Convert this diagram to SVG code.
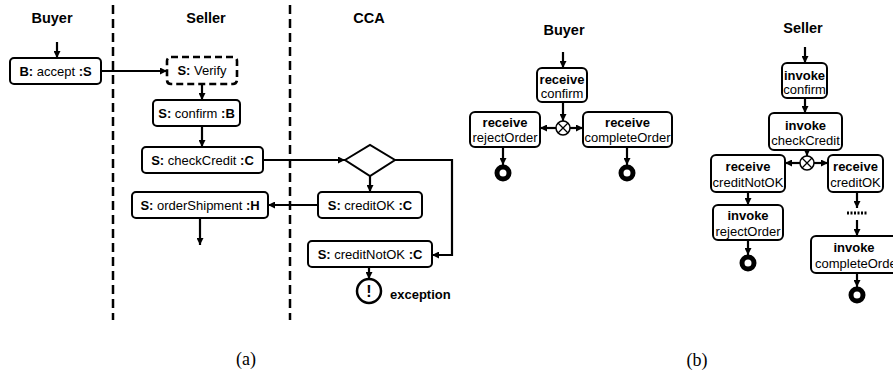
<svg xmlns="http://www.w3.org/2000/svg" width="893" height="374" viewBox="0 0 893 374">
<defs>
<marker id="ah" viewBox="0 0 10 10" refX="10" refY="5" markerWidth="7" markerHeight="7" markerUnits="userSpaceOnUse" orient="auto">
<path d="M0,0 L10,5 L0,10 z" fill="#000"/>
</marker>
</defs>
<style>
.t{font-family:"Liberation Sans",Arial,sans-serif;font-size:13px;fill:#000;text-anchor:middle}
.b{font-weight:bold}
.h{font-family:"Liberation Sans",Arial,sans-serif;font-size:14.5px;font-weight:bold;fill:#000;text-anchor:middle}
.box{fill:#fff;stroke:#000;stroke-width:2}
.dbox{fill:#fff;stroke:#000;stroke-width:2.6;stroke-dasharray:7 4}
.lane{stroke:#000;stroke-width:2.5;stroke-dasharray:9 5;fill:none}
.a{stroke:#000;stroke-width:2.2;fill:none;marker-end:url(#ah)}
.end{fill:none;stroke:#000;stroke-width:5}
.cap{font-family:"Liberation Serif","DejaVu Serif",serif;font-size:18px;fill:#000;text-anchor:middle}
</style>

<g id="lanes">
<line class="lane" x1="113" y1="5" x2="113" y2="320"/>
<line class="lane" x1="290" y1="5" x2="290" y2="320"/>
<text class="h" x="52" y="23">Buyer</text>
<text class="h" x="206" y="23">Seller</text>
<text class="h" x="369" y="23">CCA</text>
</g>

<g id="a-connectors">
<line class="a" x1="57" y1="42" x2="57" y2="58"/>
<line class="a" x1="101" y1="71" x2="167" y2="71"/>
<line class="a" x1="202" y1="84" x2="202" y2="100"/>
<line class="a" x1="202" y1="126" x2="202" y2="147"/>
<line class="a" x1="263" y1="160" x2="345" y2="160"/>
<polyline class="a" points="395,160 452,160 452,255 432,255"/>
<line class="a" x1="370" y1="176" x2="370" y2="192"/>
<line class="a" x1="318" y1="205" x2="268" y2="205"/>
<line class="a" x1="200" y1="218" x2="200" y2="245"/>
<line class="a" x1="369" y1="267" x2="369" y2="279"/>
</g>

<g id="a-accept"><rect class="box" x="10" y="58" width="91" height="26" rx="4"/><text class="t" x="55.5" y="76"><tspan class="b">B:</tspan> accept <tspan class="b">:S</tspan></text></g>
<g id="a-verify"><rect class="dbox" x="167" y="57" width="70" height="27" rx="4"/><text class="t" x="202" y="75"><tspan class="b">S:</tspan> Verify</text></g>
<g id="a-confirm"><rect class="box" x="153" y="100" width="87" height="26" rx="4"/><text class="t" x="196.5" y="118"><tspan class="b">S:</tspan> confirm <tspan class="b">:B</tspan></text></g>
<g id="a-checkCredit"><rect class="box" x="142" y="147" width="121" height="26" rx="4"/><text class="t" x="202.5" y="165"><tspan class="b">S:</tspan> checkCredit <tspan class="b">:C</tspan></text></g>
<g id="a-decision"><polygon points="345,160 370,145 395,160 370,176" fill="#fff" stroke="#000" stroke-width="2"/></g>
<g id="a-creditOK"><rect class="box" x="318" y="192" width="104" height="26" rx="4"/><text class="t" x="370" y="210"><tspan class="b">S:</tspan> creditOK <tspan class="b">:C</tspan></text></g>
<g id="a-orderShipment"><rect class="box" x="132" y="192" width="136" height="26" rx="4"/><text class="t" x="200" y="210"><tspan class="b">S:</tspan> orderShipment <tspan class="b">:H</tspan></text></g>
<g id="a-creditNotOK"><rect class="box" x="308" y="241" width="124" height="26" rx="4"/><text class="t" x="370" y="259"><tspan class="b">S:</tspan> creditNotOK <tspan class="b">:C</tspan></text></g>
<g id="a-exception"><circle cx="369" cy="291" r="12" fill="#fff" stroke="#000" stroke-width="2.5"/><text class="t b" x="369" y="297" style="font-size:16px">!</text><text class="t b" x="390" y="299" style="text-anchor:start">exception</text></g>
<text class="cap" x="246" y="365">(a)</text>

<text class="h" x="564" y="35">Buyer</text>
<text class="h" x="803" y="33">Seller</text>

<g id="b-connectors">
<line class="a" x1="563" y1="52" x2="563" y2="68"/>
<line class="a" x1="563" y1="102" x2="563" y2="121"/>
<line class="a" x1="556" y1="128" x2="540" y2="128"/>
<line class="a" x1="570" y1="128" x2="583" y2="128"/>
<line class="a" x1="503" y1="147" x2="503" y2="165"/>
<line class="a" x1="627" y1="147" x2="627" y2="165"/>
<line class="a" x1="805" y1="47" x2="805" y2="63"/>
<line class="a" x1="805" y1="98" x2="805" y2="113"/>
<line class="a" x1="807" y1="150" x2="807" y2="156"/>
<line class="a" x1="800" y1="163" x2="785" y2="163"/>
<line class="a" x1="814" y1="163" x2="828" y2="163"/>
<line class="a" x1="748" y1="192" x2="748" y2="205"/>
<line class="a" x1="748" y1="240" x2="748" y2="255"/>
<line class="a" x1="857" y1="192" x2="857" y2="208"/>
<line x1="847" y1="213" x2="868" y2="213" stroke="#000" stroke-width="3" stroke-dasharray="2 1.5"/>
<line class="a" x1="857" y1="220" x2="857" y2="236"/>
<line class="a" x1="857" y1="273" x2="857" y2="287"/>
</g>

<g id="b-buyer-confirm"><rect class="box" x="537" y="68" width="50" height="34" rx="5"/><text class="t b" x="562" y="84">receive</text><text class="t" x="562" y="98">confirm</text></g>
<g id="b-buyer-xor"><circle cx="563" cy="128" r="7" fill="#fff" stroke="#000" stroke-width="1.5"/><path d="M558,123 L568,133 M568,123 L558,133" stroke="#000" stroke-width="1.3"/></g>
<g id="b-rejectOrder"><rect class="box" x="470" y="112" width="70" height="35" rx="5"/><text class="t b" x="505" y="127">receive</text><text class="t" x="505" y="142">rejectOrder</text></g>
<g id="b-completeOrder"><rect class="box" x="583" y="112" width="89" height="35" rx="5"/><text class="t b" x="627.5" y="127">receive</text><text class="t" x="627.5" y="142">completeOrder</text></g>
<g id="b-end1"><circle class="end" cx="503" cy="173" r="6"/></g>
<g id="b-end2"><circle class="end" cx="627" cy="173" r="6"/></g>

<g id="b-seller-confirm"><rect class="box" x="782" y="63" width="45" height="35" rx="5"/><text class="t b" x="804.5" y="80">invoke</text><text class="t" x="804.5" y="94">confirm</text></g>
<g id="b-checkCredit"><rect class="box" x="769" y="113" width="73" height="37" rx="5"/><text class="t b" x="805.5" y="130">invoke</text><text class="t" x="805.5" y="145">checkCredit</text></g>
<g id="b-seller-xor"><circle cx="807" cy="163" r="7" fill="#fff" stroke="#000" stroke-width="1.5"/><path d="M802,158 L812,168 M812,158 L802,168" stroke="#000" stroke-width="1.3"/></g>
<g id="b-creditNotOK"><rect class="box" x="711" y="155" width="74" height="37" rx="5"/><text class="t b" x="748" y="171">receive</text><text class="t" x="748" y="187">creditNotOK</text></g>
<g id="b-creditOK"><rect class="box" x="828" y="155" width="55" height="37" rx="5"/><text class="t b" x="855.5" y="171">receive</text><text class="t" x="855.5" y="187">creditOK</text></g>
<g id="b-invoke-rejectOrder"><rect class="box" x="713" y="205" width="70" height="35" rx="5"/><text class="t b" x="748" y="220">invoke</text><text class="t" x="748" y="236">rejectOrder</text></g>
<g id="b-invoke-completeOrder"><rect class="box" x="811" y="236" width="95" height="37" rx="5"/><text class="t b" x="854" y="252">invoke</text><text class="t" x="858" y="268">completeOrder</text></g>
<g id="b-end3"><circle class="end" cx="748" cy="263" r="6"/></g>
<g id="b-end4"><circle class="end" cx="857" cy="295" r="6"/></g>
<text class="cap" x="697" y="366">(b)</text>
</svg>
